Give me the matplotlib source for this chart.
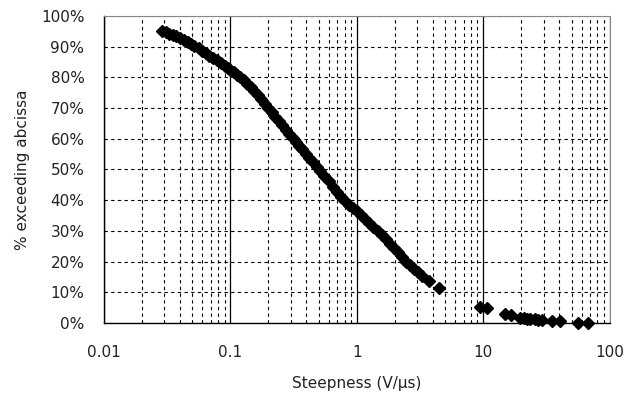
import matplotlib
matplotlib.use("Agg")
import matplotlib.pyplot as plt
from matplotlib.ticker import FixedLocator, LogLocator, NullFormatter, FuncFormatter

# Data (steepness V/us, % exceeding abcissa)
steepness = [0.0288, 0.031, 0.033, 0.035, 0.037, 0.040, 0.043, 0.046, 0.049, 0.052,
             0.056, 0.060, 0.064, 0.068, 0.073, 0.078, 0.084, 0.090, 0.096, 0.100,
             0.106, 0.113, 0.120, 0.128, 0.136, 0.145, 0.155, 0.165, 0.176, 0.188,
             0.200, 0.213, 0.227, 0.242, 0.258, 0.275, 0.293, 0.313, 0.330, 0.350,
             0.370, 0.395, 0.420, 0.450, 0.480, 0.510, 0.550, 0.600, 0.650, 0.700,
             0.750, 0.800, 0.860, 0.930, 1.00, 1.08, 1.16, 1.25, 1.35, 1.46,
             1.57, 1.70, 1.83, 1.97, 2.12, 2.28, 2.45, 2.63, 2.83, 3.05,
             3.30, 3.75, 4.50,
             9.46, 10.7, 14.8, 16.5, 19.4, 21.0, 22.0, 23.5, 25.5, 27.0, 28.9,
             34.7, 40.3, 56.5, 67.8]
pct_exceeding = [95.1, 94.6, 94.2, 93.8, 93.4, 92.9, 92.2, 91.5, 90.9, 90.3,
                 89.5, 88.7, 87.8, 87.0, 86.2, 85.5, 84.6, 83.7, 82.9, 82.4,
                 81.6, 80.8, 80.0, 79.0, 77.9, 76.8, 75.5, 74.2, 72.8, 71.4,
                 70.0, 68.6, 67.2, 65.8, 64.4, 63.0, 61.7, 60.2, 59.0, 57.8,
                 56.6, 55.1, 53.8, 52.3, 50.9, 49.6, 48.0, 46.1, 44.3, 42.6,
                 41.2, 39.9, 38.6, 37.5, 36.6, 35.3, 34.0, 32.7, 31.3, 30.0,
                 28.7, 27.3, 25.9, 24.5, 23.0, 21.5, 20.0, 18.8, 17.6, 16.5,
                 15.3, 13.8, 11.4,
                 5.1, 4.8, 2.9, 2.5, 1.8, 1.6, 1.5, 1.4, 1.2, 1.1, 1.0,
                 0.75, 0.7, 0.1, 0.1]
x_ticks = [0.01, 0.1, 1, 10, 100]
x_tick_labels = ["0.01", "0.1", "1", "10", "100"]
y_ticks = list(range(0, 101, 10))

plt.rcParams['font.family'] = ['DejaVu Sans']
fig = plt.figure(figsize=(6.26, 3.96), dpi=100)
ax = fig.add_axes([0.166, 0.184, 0.808, 0.776])

ax.set_xscale('log')
ax.set_xlim(0.01, 100)
ax.set_ylim(0, 100)

ax.xaxis.set_major_locator(FixedLocator(x_ticks))
ax.xaxis.set_minor_locator(LogLocator(base=10, subs=range(2, 10)))
ax.xaxis.set_minor_formatter(NullFormatter())
ax.set_xticks(x_ticks)
ax.set_xticklabels(x_tick_labels)
ax.set_yticks(y_ticks)
ax.yaxis.set_major_formatter(FuncFormatter(lambda v, p: f"{int(v)}%"))

ax.grid(True, which='major', axis='x', color='black', linestyle='-', linewidth=0.9)
ax.grid(True, which='minor', axis='x', color='black', linestyle=(0, (3, 3)), linewidth=0.8)
ax.grid(True, which='major', axis='y', color='black', linestyle=(0, (3, 3)), linewidth=0.8)
ax.set_axisbelow(True)

ax.tick_params(axis='both', which='both', length=0, labelsize=11, labelcolor='#222222')
ax.tick_params(axis='y', pad=14)
ax.tick_params(axis='x', pad=16)

for s in ['left', 'bottom']:
    ax.spines[s].set_color('black')
    ax.spines[s].set_linewidth(1.0)
for s in ['top', 'right']:
    ax.spines[s].set_color('#888888')
    ax.spines[s].set_linewidth(0.8)
    ax.spines[s].set_linestyle((0, (1, 1)))

ax.plot(steepness, pct_exceeding, linestyle='none', marker='D', markersize=6.5,
        color='black', clip_on=False, zorder=5)

ax.set_xlabel("Steepness (V/\u03bcs)", fontsize=11, color='#222222', labelpad=11)
ax.set_ylabel("% exceeding abcissa", fontsize=11, color='#222222', labelpad=8)

fig.savefig("out.png", dpi=100)
